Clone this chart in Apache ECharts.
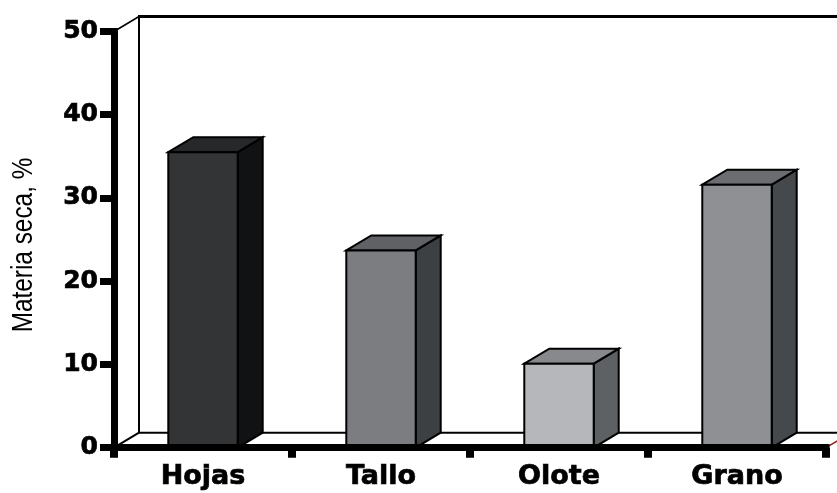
<!DOCTYPE html>
<html>
<head>
<meta charset="utf-8">
<script src="https://cdn.jsdelivr.net/npm/echarts@6/dist/echarts.min.js"></script>
<style>
  html, body { margin: 0; padding: 0; background: #fff; }
  #chart { width: 837px; height: 493px; }
</style>
</head>
<body>
<div id="chart"></div>
<script>
// Dry matter distribution by plant fraction
const categories = ['Hojas', 'Tallo', 'Olote', 'Grano'];
const dryMatter = [35.5, 23.7, 10.1, 31.6];
const yAxisTitle = 'Materia seca, %';

// Face shades for each box: front, side, top
const frontColors = ['#333436', '#7b7d81', '#b5b7ba', '#8e9094'];
const sideColors  = ['#111214', '#3d4043', '#5e6164', '#46494c'];
const topColors   = ['#27282a', '#5f6164', '#87898c', '#6b6d70'];

// Perspective offset shared by boxes and the back frame
const DEPTH_X = 25;
const DEPTH_Y = -15;

const chart = echarts.init(document.getElementById('chart'), null, { renderer: 'canvas' });

function renderFrame(params, api) {
  const cs = params.coordSys;
  const x0 = cs.x, x1 = cs.x + cs.width;
  const yt = cs.y, yb = cs.y + cs.height;
  const bx0 = x0 + DEPTH_X, bx1 = x1 + DEPTH_X;
  const byt = yt + DEPTH_Y, byb = yb + DEPTH_Y;
  const line = (a, b, w, c) => ({
    type: 'line',
    shape: { x1: a[0], y1: a[1], x2: b[0], y2: b[1] },
    style: { stroke: c || '#000', lineWidth: w }
  });
  return {
    type: 'group',
    children: [
      line([bx0, byt], [bx0, byb], 2),
      line([bx0 - 1, byt], [bx1 + 20, byt], 3),
      line([x0, yt], [bx0, byt], 1.5),
      line([bx0, byb], [bx1 + 20, byb], 2),
      line([x0, yb], [bx0, byb], 2),
      line([x1, yb], [bx1, byb], 1.5, '#8b1c1c')
    ]
  };
}

function renderBox(params, api) {
  const i = api.value(0);
  const top = api.coord([i, api.value(1)]);
  const base = api.coord([i, 0]);
  const band = api.size([1, 0])[0];
  const w = band * 0.39;
  const xl = top[0] - w / 2, xr = top[0] + w / 2;
  const yt = top[1], yb = base[1];
  const stroke = { stroke: '#000', lineWidth: 2, lineJoin: 'miter' };
  return {
    type: 'group',
    children: [
      {
        type: 'polygon',
        shape: { points: [[xr, yt], [xr + DEPTH_X, yt + DEPTH_Y], [xr + DEPTH_X, yb + DEPTH_Y], [xr, yb]] },
        style: Object.assign({ fill: sideColors[i] }, stroke)
      },
      {
        type: 'polygon',
        shape: { points: [[xl, yt], [xl + DEPTH_X, yt + DEPTH_Y], [xr + DEPTH_X, yt + DEPTH_Y], [xr, yt]] },
        style: Object.assign({ fill: topColors[i] }, stroke)
      },
      {
        type: 'rect',
        shape: { x: xl, y: yt, width: w, height: yb - yt },
        style: Object.assign({ fill: frontColors[i] }, stroke)
      }
    ]
  };
}

const option = {
  animation: false,
  backgroundColor: '#ffffff',
  grid: { left: 114, right: 11, top: 31.5, bottom: 45.3, containLabel: false },
  xAxis: {
    type: 'category',
    data: categories,
    z: 10,
    boundaryGap: true,
    axisLine: { lineStyle: { color: '#000', width: 7, cap: 'square' } },
    axisTick: { show: true, inside: false, length: 10, alignWithLabel: false, lineStyle: { color: '#000', width: 8 } },
    axisLabel: {
      color: '#000',
      fontFamily: 'DejaVu Sans',
      fontWeight: 'bold',
      fontSize: 27,
      textBorderColor: '#000',
      textBorderWidth: 0.7,
      margin: 16
    },
    splitLine: { show: false }
  },
  yAxis: {
    type: 'value',
    min: 0,
    max: 50,
    interval: 10,
    z: 10,
    axisLine: { show: true, lineStyle: { color: '#000', width: 7, cap: 'square' } },
    axisTick: { show: true, length: 14, lineStyle: { color: '#000', width: 7 } },
    axisLabel: {
      color: '#000',
      fontFamily: 'DejaVu Sans',
      fontWeight: 'bold',
      fontSize: 25,
      textBorderColor: '#000',
      textBorderWidth: 0.7,
      margin: 16
    },
    splitLine: { show: false }
  },
  graphic: [
    {
      type: 'text',
      x: 24,
      y: 245,
      rotation: Math.PI / 2,
      scaleX: 0.84,
      silent: true,
      style: {
        text: yAxisTitle,
        fontFamily: 'Liberation Sans',
        fontSize: 29,
        fill: '#000',
        align: 'center',
        verticalAlign: 'middle'
      }
    }
  ],
  series: [
    {
      type: 'custom',
      name: 'frame',
      silent: true,
      clip: false,
      z: 1,
      renderItem: renderFrame,
      data: [[0, 0]]
    },
    {
      type: 'custom',
      name: 'Materia seca',
      silent: true,
      clip: false,
      z: 3,
      renderItem: renderBox,
      encode: { x: 0, y: 1 },
      data: categories.map((c, i) => [i, dryMatter[i]])
    }
  ]
};

chart.setOption(option);
</script>
</body>
</html>
